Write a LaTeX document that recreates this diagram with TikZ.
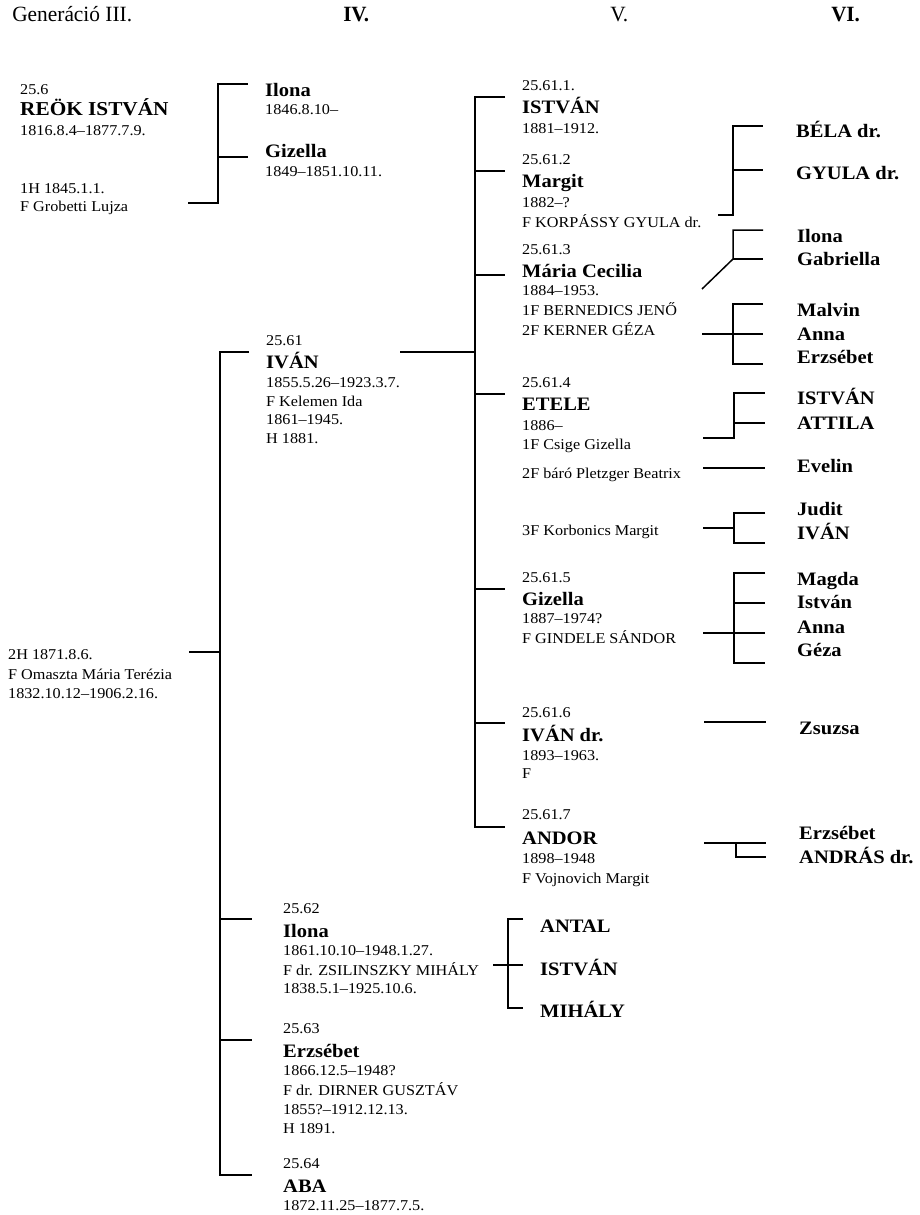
\documentclass[tikz,border=0pt]{standalone}
\usepackage{fontspec}
\setmainfont{Liberation Serif}[FakeStretch=1.08]
\newfontfamily\hdfont{Liberation Serif}
\tikzset{
  sm/.style={anchor=base west, inner sep=0pt, font=\fontsize{15}{18}\selectfont},
  bn/.style={anchor=base west, inner sep=0pt, font=\bfseries\fontsize{19}{22}\selectfont},
  bbig/.style={anchor=base west, inner sep=0pt, font=\bfseries\fontsize{19.7}{22}\selectfont},
  hd/.style={anchor=base west, inner sep=0pt, font=\fontsize{15}{18}\selectfont, xscale=1.32, yscale=1.45},
  hdb/.style={anchor=base west, inner sep=0pt, font=\bfseries\fontsize{15}{18}\selectfont, xscale=1.3, yscale=1.45},
  ln/.style={line width=1.5pt, line join=miter}
}
\begin{document}
\begin{tikzpicture}[x=1pt,y=-1pt]
\useasboundingbox (0,0) rectangle (920,1215);
% headers
\node[hd]  (h3) at (12,22) {Generáció III.};
\node[hdb] (h4) at (343,22) {IV.};
\node[hd]  (h5) at (610,22) {V.};
\node[hdb] (h6) at (831,22) {VI.};
% generation III
\node[sm]   (a1) at (20,94) {25.6};
\node[bbig] (a2) at (20,115) {REÖK ISTVÁN};
\node[sm]   (a3) at (20,135) {1816.8.4--1877.7.9.};
\node[sm]   (a4) at (20,193) {1H 1845.1.1.};
\node[sm]   (a5) at (20,211) {F Grobetti Lujza};
\node[sm]   (a6) at (8,659) {2H 1871.8.6.};
\node[sm]   (a7) at (8,679) {F Omaszta Mária Terézia};
\node[sm]   (a8) at (8,698) {1832.10.12--1906.2.16.};
% generation IV (first marriage)
\node[bn] (b1) at (265,96) {Ilona};
\node[sm] (b2) at (265,114) {1846.8.10--};
\node[bn] (b3) at (265,157) {Gizella};
\node[sm] (b4) at (265,176) {1849--1851.10.11.};
% IVÁN
\node[sm] (c1) at (266,345) {25.61};
\node[bn] (c2) at (266,368) {IVÁN};
\node[sm] (c3) at (266,387) {1855.5.26--1923.3.7.};
\node[sm] (c4) at (266,406) {F Kelemen Ida};
\node[sm] (c5) at (266,424) {1861--1945.};
\node[sm] (c6) at (266,443) {H 1881.};
% lower IV
\node[sm] (d1) at (283,913) {25.62};
\node[bn] (d2) at (283,937) {Ilona};
\node[sm] (d3) at (283,955) {1861.10.10--1948.1.27.};
\node[sm] (d4) at (283,975) {F dr. ZSILINSZKY MIHÁLY};
\node[sm] (d5) at (283,993) {1838.5.1--1925.10.6.};
\node[sm] (d6) at (283,1033) {25.63};
\node[bn] (d7) at (283,1057) {Erzsébet};
\node[sm] (d8) at (283,1075) {1866.12.5--1948?};
\node[sm] (d9) at (283,1095) {F dr. DIRNER GUSZTÁV};
\node[sm] (d10) at (283,1114) {1855?--1912.12.13.};
\node[sm] (d11) at (283,1133) {H 1891.};
\node[sm] (d12) at (283,1168) {25.64};
\node[bn] (d13) at (283,1192) {ABA};
\node[sm] (d14) at (283,1210) {1872.11.25--1877.7.5.};
% generation V
\node[sm] (e1) at (522,90) {25.61.1.};
\node[bn] (e2) at (522,113) {ISTVÁN};
\node[sm] (e3) at (522,133) {1881--1912.};
\node[sm] (e4) at (522,164) {25.61.2};
\node[bn] (e5) at (522,187) {Margit};
\node[sm] (e6) at (522,207) {1882--?};
\node[sm] (e7) at (522,227) {F KORPÁSSY GYULA dr.};
\node[sm] (e8) at (522,254) {25.61.3};
\node[bn] (e9) at (522,277) {Mária Cecilia};
\node[sm] (e10) at (522,295) {1884--1953.};
\node[sm] (e11) at (522,315) {1F BERNEDICS JENŐ};
\node[sm] (e12) at (522,335) {2F KERNER GÉZA};
\node[sm] (e13) at (522,387) {25.61.4};
\node[bn] (e14) at (522,410) {ETELE};
\node[sm] (e15) at (522,430) {1886--};
\node[sm] (e16) at (522,449) {1F Csige Gizella};
\node[sm] (e17) at (522,478) {2F báró Pletzger Beatrix};
\node[sm] (e18) at (522,535) {3F Korbonics Margit};
\node[sm] (e19) at (522,582) {25.61.5};
\node[bn] (e20) at (522,605) {Gizella};
\node[sm] (e21) at (522,623) {1887--1974?};
\node[sm] (e22) at (522,643) {F GINDELE SÁNDOR};
\node[sm] (e23) at (522,717) {25.61.6};
\node[bn] (e24) at (522,741) {IVÁN dr.};
\node[sm] (e25) at (522,760) {1893--1963.};
\node[sm] (e26) at (522,778) {F};
\node[sm] (e27) at (522,819) {25.61.7};
\node[bn] (e28) at (522,844) {ANDOR};
\node[sm] (e29) at (522,863) {1898--1948};
\node[sm] (e30) at (522,883) {F Vojnovich Margit};
% generation VI
\node[bn] (g1) at (796,137) {BÉLA dr.};
\node[bn] (g2) at (796,179) {GYULA dr.};
\node[bn] (g3) at (797,242) {Ilona};
\node[bn] (g4) at (797,265) {Gabriella};
\node[bn] (g5) at (797,316) {Malvin};
\node[bn] (g6) at (797,340) {Anna};
\node[bn] (g7) at (797,363) {Erzsébet};
\node[bn] (g8) at (797,404) {ISTVÁN};
\node[bn] (g9) at (797,429) {ATTILA};
\node[bn] (g10) at (797,472) {Evelin};
\node[bn] (g11) at (797,515) {Judit};
\node[bn] (g12) at (797,539) {IVÁN};
\node[bn] (g13) at (797,585) {Magda};
\node[bn] (g14) at (797,608) {István};
\node[bn] (g15) at (797,633) {Anna};
\node[bn] (g16) at (797,656) {Géza};
\node[bn] (g17) at (799,734) {Zsuzsa};
\node[bn] (g18) at (799,839) {Erzsébet};
\node[bn] (g19) at (799,863) {ANDRÁS dr.};
\node[bn] (g20) at (540,932) {ANTAL};
\node[bn] (g21) at (540,975) {ISTVÁN};
\node[bn] (g22) at (540,1017) {MIHÁLY};
% --- connectors ---
% III first marriage
\coordinate (p1) at (188,203);
\coordinate (p1c) at (218,203);
\coordinate (p1t) at (218,84);
\coordinate (p1te) at (248,84);
\coordinate (p1m) at (218,157);
\coordinate (p1me) at (248,157);
\draw[ln] (p1) -- (p1c) -- (p1t) -- (p1te);
\draw[ln] (p1m) -- (p1me);
% III second marriage
\coordinate (q0) at (189,652);
\coordinate (q0c) at (220,652);
\coordinate (q1) at (220,352);
\coordinate (q1e) at (249,352);
\coordinate (q2) at (220,919);
\coordinate (q2e) at (252,919);
\coordinate (q3) at (220,1040);
\coordinate (q3e) at (252,1040);
\coordinate (q4) at (220,1175);
\coordinate (q4e) at (252,1175);
\draw[ln] (q0) -- (q0c);
\draw[ln] (q1e) -- (q1) -- (q4) -- (q4e);
\draw[ln] (q2) -- (q2e);
\draw[ln] (q3) -- (q3e);
% IVÁN to V
\coordinate (r0) at (400,352);
\coordinate (r0c) at (475,352);
\coordinate (r1) at (475,97);   \coordinate (r1e) at (505,97);
\coordinate (r2) at (475,171);  \coordinate (r2e) at (505,171);
\coordinate (r3) at (475,275);  \coordinate (r3e) at (505,275);
\coordinate (r4) at (475,394);  \coordinate (r4e) at (505,394);
\coordinate (r5) at (475,589);  \coordinate (r5e) at (505,589);
\coordinate (r6) at (475,723);  \coordinate (r6e) at (505,723);
\coordinate (r7) at (475,827);  \coordinate (r7e) at (505,827);
\draw[ln] (r0) -- (r0c);
\draw[ln] (r1e) -- (r1) -- (r7) -- (r7e);
\draw[ln] (r2) -- (r2e);
\draw[ln] (r3) -- (r3e);
\draw[ln] (r4) -- (r4e);
\draw[ln] (r5) -- (r5e);
\draw[ln] (r6) -- (r6e);
% Margit's children
\coordinate (s0) at (718,215);
\coordinate (s0c) at (733,215);
\coordinate (s1) at (733,126);
\coordinate (s1e) at (763,126);
\coordinate (s2) at (733,170);
\coordinate (s2e) at (763,170);
\draw[ln] (s0) -- (s0c) -- (s1) -- (s1e);
\draw[ln] (s2) -- (s2e);
% Mária Cecilia, first marriage
\coordinate (t0) at (702,289);
\coordinate (t2) at (733,259);
\coordinate (t1) at (733,230);
\coordinate (t1e) at (763,230);
\coordinate (t2e) at (763,259);
\draw[ln] (t0) -- (t2) -- (t1) -- (t1e);
\draw[ln] (t2) -- (t2e);
% Mária Cecilia, second marriage
\coordinate (u0) at (702,334);
\coordinate (u1) at (733,304);
\coordinate (u1e) at (763,304);
\coordinate (u2e) at (763,334);
\coordinate (u3) at (733,364);
\coordinate (u3e) at (763,364);
\draw[ln] (u1e) -- (u1) -- (u3) -- (u3e);
\draw[ln] (u0) -- (u2e);
% ETELE
\coordinate (v0) at (703,438);
\coordinate (v0c) at (734,438);
\coordinate (v1) at (734,393);
\coordinate (v1e) at (765,393);
\coordinate (v2) at (734,423);
\coordinate (v2e) at (765,423);
\draw[ln] (v0) -- (v0c) -- (v1) -- (v1e);
\draw[ln] (v2) -- (v2e);
\coordinate (w0) at (703,468);
\coordinate (w0e) at (765,468);
\draw[ln] (w0) -- (w0e);
\coordinate (x0) at (703,528);
\coordinate (x0c) at (734,528);
\coordinate (x1) at (734,513);
\coordinate (x1e) at (765,513);
\coordinate (x3) at (734,543);
\coordinate (x3e) at (765,543);
\draw[ln] (x1e) -- (x1) -- (x3) -- (x3e);
\draw[ln] (x0) -- (x0c);
% Gizella
\coordinate (y0) at (703,633);
\coordinate (y1) at (734,573);
\coordinate (y1e) at (765,573);
\coordinate (y2) at (734,603);
\coordinate (y2e) at (765,603);
\coordinate (y3e) at (765,633);
\coordinate (y4) at (734,663);
\coordinate (y4e) at (765,663);
\draw[ln] (y1e) -- (y1) -- (y4) -- (y4e);
\draw[ln] (y2) -- (y2e);
\draw[ln] (y0) -- (y3e);
% IVÁN dr.
\coordinate (z0) at (704,722);
\coordinate (z0e) at (766,722);
\draw[ln] (z0) -- (z0e);
% ANDOR
\coordinate (k0) at (704,843);
\coordinate (k0e) at (766,843);
\coordinate (k1) at (736,843);
\coordinate (k2) at (736,857);
\coordinate (k2e) at (766,857);
\draw[ln] (k0) -- (k0e);
\draw[ln] (k1) -- (k2) -- (k2e);
% Ilona (lower)
\coordinate (f0) at (493,965);
\coordinate (f1) at (508,919);
\coordinate (f1e) at (523,919);
\coordinate (f2e) at (523,965);
\coordinate (f3) at (508,1008);
\coordinate (f3e) at (523,1008);
\draw[ln] (f1e) -- (f1) -- (f3) -- (f3e);
\draw[ln] (f0) -- (f2e);
\end{tikzpicture}
\end{document}
